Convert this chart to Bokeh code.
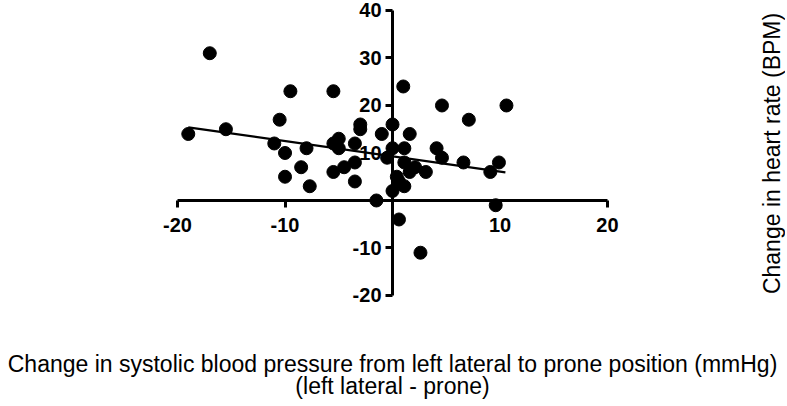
import numpy as np
from bokeh.plotting import figure
from bokeh.models import ColumnDataSource, FixedTicker, Label, Range1d
from bokeh.embed import file_html
from bokeh.resources import INLINE

# Change in systolic BP (left lateral - prone), mmHg
sbp_change = [-19, -17, -15.5, -11, -10.5, -10, -10, -9.5, -8.5, -8, -7.7,
              -5.5, -5.5, -5.5, -5, -5, -4.5, -3.5, -3.5, -3.5, -3, -3,
              -1.5, -1, -0.5, 0, 0, 0, 0.4, 0.6, 0.6, 1, 1.1, 1.1, 1.1,
              1.6, 1.6, 2.1, 2.6, 3.1, 4.1, 4.6, 4.6, 6.6, 7.1, 9.1, 9.6,
              9.9, 10.6]
# Change in heart rate, BPM
hr_change = [14, 31, 15, 12, 17, 10, 5, 23, 7, 11, 3,
             23, 12, 6, 13, 11, 7, 12, 8, 4, 16, 15,
             0, 14, 9, 16, 11, 2, 5, 4, -4, 24, 11, 8, 3,
             14, 6, 7, -11, 6, 11, 20, 9, 8, 17, 6, -1,
             8, 20]

# Regression line endpoints
fit_x = [-19, 10.5]
fit_y = [15.4, 5.9]

x_ticks = [-20, -10, 10, 20]
x_tick_labels = ["-20", "-10", "10", "20"]
y_ticks = [-20, -10, 10, 20, 30, 40]
y_tick_labels = ["-20", "-10", "10", "20", "30", "40"]

x_title = "Change in systolic blood pressure from left lateral to prone position (mmHg)"
x_subtitle = "(left lateral - prone)"
y_title = "Change in heart rate (BPM)"

FONT = "Liberation Sans"

p = figure(output_backend="svg", toolbar_location=None,
           width=785, height=404,
           min_border=0,
           x_range=Range1d(-36.47, 36.56), y_range=Range1d(-42.95, 42.1),
           background_fill_color="white", border_fill_color="white")
p.outline_line_color = None
p.grid.visible = False

for ax in (p.xaxis, p.yaxis):
    ax.fixed_location = 0
    ax.axis_line_width = 3
    ax.axis_line_color = "black"
    ax.major_tick_line_width = 3
    ax.major_tick_line_color = "black"
    ax.major_tick_out = 7
    ax.major_tick_in = 0
    ax.minor_tick_line_color = None
    ax.major_label_text_font = FONT
    ax.major_label_text_font_style = "bold"
    ax.major_label_text_font_size = "20px"
    ax.major_label_text_color = "black"

p.xaxis.bounds = (min(x_ticks), max(x_ticks))
p.yaxis.bounds = (min(y_ticks), max(y_ticks))
p.xaxis.ticker = FixedTicker(ticks=x_ticks)
p.yaxis.ticker = FixedTicker(ticks=y_ticks)
p.xaxis.major_label_overrides = dict(zip(x_ticks, x_tick_labels))
p.yaxis.major_label_overrides = dict(zip(y_ticks, y_tick_labels))
p.xaxis.major_label_standoff = 11
p.yaxis.major_label_standoff = 4

src = ColumnDataSource(dict(x=sbp_change, y=hr_change))
p.scatter("x", "y", source=src, size=13, color="black", line_color="black")
p.line(fit_x, fit_y, line_width=2.2, color="black")

p.add_layout(Label(x=0, y=-34.5, text=x_title, text_align="center",
                   text_baseline="alphabetic", text_font=FONT,
                   text_font_size="23px", text_color="black"))
p.add_layout(Label(x=0, y=-39.0, text=x_subtitle, text_align="center",
                   text_baseline="alphabetic", text_font=FONT,
                   text_font_size="23px", text_color="black"))
p.add_layout(Label(x=35.26, y=9.9, text=y_title, text_align="center",
                   text_baseline="middle", angle=np.pi / 2, text_font=FONT,
                   text_font_size="23px", text_color="black"))

open("out.html", "w").write(file_html(p, INLINE))
